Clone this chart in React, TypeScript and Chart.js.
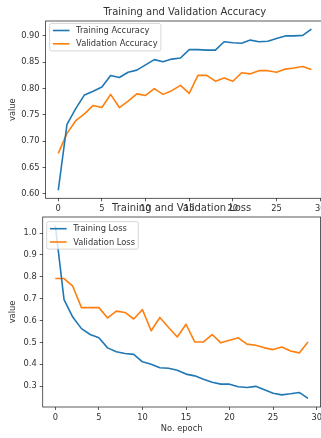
import React, { useEffect, useRef } from 'react';
import { Chart, registerables } from 'chart.js';

Chart.register(...registerables);

// ---------------- data ----------------
const epochs = [0, 1, 2, 3, 4, 5, 6, 7, 8, 9, 10, 11, 12, 13, 14, 15, 16, 17, 18, 19, 20, 21, 22, 23, 24, 25, 26, 27, 28, 29];

const trainingAccuracy = [0.607, 0.732, 0.762, 0.788, 0.795, 0.803, 0.825, 0.821, 0.831, 0.835, 0.845, 0.855, 0.851, 0.856, 0.858, 0.874, 0.874, 0.873, 0.873, 0.889, 0.887, 0.886, 0.892, 0.889, 0.890, 0.895, 0.900, 0.900, 0.901, 0.913];
const validationAccuracy = [0.677, 0.715, 0.739, 0.752, 0.768, 0.764, 0.789, 0.764, 0.776, 0.790, 0.787, 0.800, 0.789, 0.796, 0.806, 0.791, 0.825, 0.825, 0.814, 0.820, 0.814, 0.830, 0.828, 0.834, 0.834, 0.831, 0.837, 0.839, 0.842, 0.836];

const trainingLoss = [1.034, 0.696, 0.616, 0.563, 0.536, 0.521, 0.475, 0.457, 0.449, 0.445, 0.411, 0.400, 0.384, 0.382, 0.373, 0.355, 0.347, 0.331, 0.318, 0.309, 0.309, 0.297, 0.294, 0.299, 0.283, 0.267, 0.260, 0.265, 0.271, 0.244];
const validationLoss = [0.792, 0.792, 0.757, 0.659, 0.659, 0.659, 0.612, 0.643, 0.637, 0.607, 0.650, 0.553, 0.614, 0.568, 0.525, 0.583, 0.502, 0.502, 0.536, 0.498, 0.510, 0.521, 0.492, 0.487, 0.475, 0.467, 0.479, 0.461, 0.452, 0.502];

const xTickValues = [0, 5, 10, 15, 20, 25, 30];
const accuracyYTicks = [0.6, 0.65, 0.7, 0.75, 0.8, 0.85, 0.9];
const lossYTicks = [0.3, 0.4, 0.5, 0.6, 0.7, 0.8, 0.9, 1.0];

const BLUE = '#1f77b4';
const ORANGE = '#ff7f0e';
const FAMILY = '"DejaVu Sans", sans-serif';
const SMALL = 8.3;
const TEXT = '#333333';
const LINE_W = 1.6;

// frame + matplotlib-like legend
const mplPlugin = {
  id: 'mplDecor',
  afterDatasetsDraw(chart: any, _args: any, opts: any) {
    const ctx = chart.ctx;
    const ca = chart.chartArea;
    ctx.save();
    ctx.strokeStyle = '#333';
    ctx.lineWidth = 0.8;
    ctx.strokeRect(ca.left, ca.top, ca.right - ca.left, ca.bottom - ca.top);

    ctx.font = `${SMALL}px ${FAMILY}`;
    const ds = chart.data.datasets;
    const textW = Math.max(...ds.map((d: any) => ctx.measureText(d.label).width));
    const pad = 3.3, hl = 16.6, gap = 6.6, row = 13.3, first = 7.1;
    const w = pad * 2 + hl + gap + textW;
    const h = first * 2 + row * (ds.length - 1);
    const x = ca.left + (opts.dx ?? 4);
    const y = ca.top + (opts.dy ?? 3);
    ctx.beginPath();
    (ctx as any).roundRect(x, y, w, h, 2);
    ctx.fillStyle = 'rgba(255,255,255,0.8)';
    ctx.fill();
    ctx.strokeStyle = '#cccccc';
    ctx.lineWidth = 0.8;
    ctx.stroke();
    ds.forEach((d: any, i: number) => {
      const cy = y + first + i * row;
      ctx.beginPath();
      ctx.moveTo(x + pad, cy);
      ctx.lineTo(x + pad + hl, cy);
      ctx.strokeStyle = d.borderColor;
      ctx.lineWidth = LINE_W;
      ctx.stroke();
      ctx.fillStyle = TEXT;
      ctx.textBaseline = 'middle';
      ctx.textAlign = 'left';
      ctx.fillText(d.label, x + pad + hl + gap, cy + 0.5);
    });
    ctx.restore();
  },
};

type Series = { label: string; values: number[]; color: string };

interface PanelProps {
  top: number;
  width: number;
  height: number;
  title: string;
  titlePad: [number, number];
  padRight: number;
  yAxisWidth: number;
  xAxisHeight: number;
  xTickPad: number;
  series: Series[];
  yTicks: number[];
  yDecimals: number;
  xTitle?: string;
  legendDy: number;
}

function Panel(p: PanelProps) {
  const ref = useRef<HTMLCanvasElement | null>(null);
  useEffect(() => {
    if (!ref.current) return;
    const all = p.series.flatMap((s) => s.values);
    const lo = Math.min(...all);
    const hi = Math.max(...all);
    const m = (hi - lo) * 0.05;
    const xLo = Math.min(...epochs);
    const xHi = Math.max(...epochs);
    const xm = (xHi - xLo) * 0.05;
    const chart = new Chart(ref.current, {
      type: 'line',
      data: {
        datasets: p.series.map((s) => ({
          label: s.label,
          data: epochs.map((e, i) => ({ x: e, y: s.values[i] })),
          borderColor: s.color,
          backgroundColor: s.color,
          borderWidth: LINE_W,
          pointRadius: 0,
          tension: 0,
          fill: false,
          borderJoinStyle: 'round',
        })),
      },
      options: {
        animation: false,
        responsive: false,
        devicePixelRatio: 1,
        events: [],
        layout: { padding: { left: 0, top: 0, right: p.padRight, bottom: 0 } },
        plugins: {
          legend: { display: false },
          tooltip: { enabled: false },
          title: {
            display: true,
            text: p.title,
            fullSize: false,
            color: TEXT,
            font: { family: FAMILY, size: 10, weight: 'normal', lineHeight: 1.2 },
            padding: { top: p.titlePad[0], bottom: p.titlePad[1] },
          },
          mplDecor: { dx: 4, dy: p.legendDy },
        } as any,
        scales: {
          x: {
            type: 'linear',
            min: xLo - xm,
            max: xHi + xm,
            afterBuildTicks: (s: any) => {
              s.ticks = xTickValues.map((v) => ({ value: v }));
            },
            afterFit: (s: any) => {
              s.height = p.xAxisHeight;
            },
            ticks: {
              autoSkip: false,
              maxRotation: 0,
              color: TEXT,
              padding: p.xTickPad,
              font: { family: FAMILY, size: SMALL },
              callback: (v: any) => String(v),
            },
            grid: { display: true, drawOnChartArea: false, drawTicks: true, tickLength: 3, color: '#333', lineWidth: 0.8 },
            border: { display: false },
            title: p.xTitle
              ? { display: true, text: p.xTitle, color: TEXT, font: { family: FAMILY, size: SMALL }, padding: { top: 0, bottom: 4 } }
              : { display: false },
          },
          y: {
            type: 'linear',
            min: lo - m,
            max: hi + m,
            afterBuildTicks: (s: any) => {
              s.ticks = p.yTicks.map((v) => ({ value: v }));
            },
            afterFit: (s: any) => {
              s.width = p.yAxisWidth;
            },
            ticks: {
              autoSkip: false,
              color: TEXT,
              padding: 3,
              font: { family: FAMILY, size: SMALL },
              callback: (v: any) => Number(v).toFixed(p.yDecimals),
            },
            grid: { display: true, drawOnChartArea: false, drawTicks: true, tickLength: 3, color: '#333', lineWidth: 0.8 },
            border: { display: false },
            title: { display: true, text: 'value', color: TEXT, font: { family: FAMILY, size: SMALL }, padding: { top: 7.5, bottom: 0 } },
          },
        },
      } as any,
      plugins: [mplPlugin],
    });
    return () => chart.destroy();
  }, []);
  return (
    <canvas
      ref={ref}
      width={p.width}
      height={p.height}
      style={{ position: 'absolute', left: 0, top: p.top, width: p.width, height: p.height, display: 'block' }}
    />
  );
}

export default function App() {
  return (
    <div style={{ position: 'fixed', left: 0, top: 0, width: 321, height: 438, overflow: 'hidden', background: '#fff' }}>
      <Panel
        top={0}
        width={340}
        height={220}
        title="Training and Validation Accuracy"
        titlePad={[6.5, 2.5]}
        padRight={15.9}
        yAxisWidth={45.6}
        xAxisHeight={21.7}
        xTickPad={2.2}
        series={[
          { label: 'Training Accuracy', values: trainingAccuracy, color: BLUE },
          { label: 'Validation Accuracy', values: validationAccuracy, color: ORANGE },
        ]}
        yTicks={accuracyYTicks}
        yDecimals={2}
        legendDy={2.4}
      />
      <Panel
        top={200}
        width={340}
        height={238}
        title="Training and Validation Loss"
        titlePad={[2.3, 2.7]}
        padRight={19.4}
        yAxisWidth={42.7}
        xAxisHeight={31}
        xTickPad={3.3}
        series={[
          { label: 'Training Loss', values: trainingLoss, color: BLUE },
          { label: 'Validation Loss', values: validationLoss, color: ORANGE },
        ]}
        yTicks={lossYTicks}
        yDecimals={1}
        xTitle="No. epoch"
        legendDy={4.6}
      />
    </div>
  );
}
